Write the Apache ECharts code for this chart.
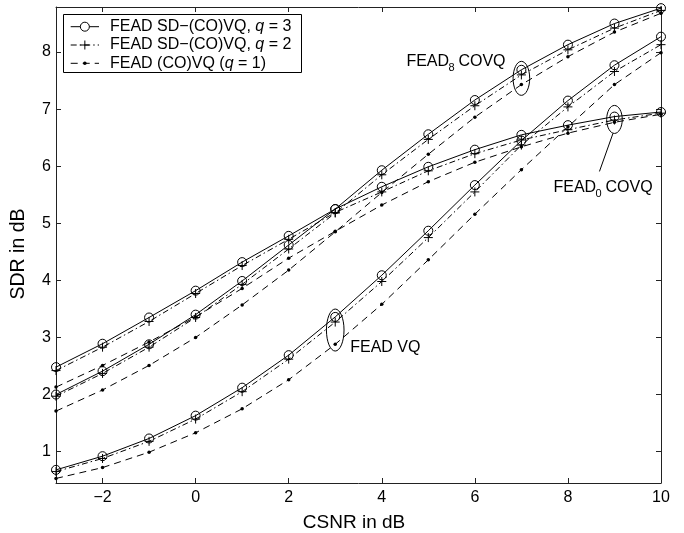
<!DOCTYPE html>
<html><head><meta charset="utf-8">
<script src="https://cdn.jsdelivr.net/npm/echarts@6/dist/echarts.min.js"></script>
<style>html,body{margin:0;padding:0;background:#fff}#c{width:684px;height:533px}</style>
</head><body><div id="c"></div>
<script>
const csnr = [-3,-2,-1,0,1,2,3,4,5,6,7,8,9,10];
const xTicks = [-2,0,2,4,6,8,10];
const yTicks = [1,2,3,4,5,6,7,8];
// FEAD VQ
const vqQ3 = [0.68,0.92,1.23,1.63,2.12,2.69,3.36,4.09,4.87,5.67,6.45,7.15,7.77,8.27];
const vqQ2 = [0.65,0.88,1.18,1.57,2.05,2.62,3.27,3.98,4.75,5.55,6.37,7.04,7.66,8.13];
const vqQ1 = [0.53,0.72,0.99,1.33,1.75,2.26,2.88,3.58,4.36,5.16,5.94,6.69,7.43,7.99];
// FEAD0 COVQ
const f0Q3 = [2.48,2.89,3.35,3.82,4.32,4.78,5.25,5.64,5.99,6.29,6.55,6.72,6.87,6.95];
const f0Q2 = [2.42,2.83,3.28,3.77,4.26,4.72,5.19,5.55,5.92,6.22,6.46,6.64,6.81,6.93];
const f0Q1 = [2.13,2.51,2.92,3.36,3.86,4.39,4.86,5.32,5.73,6.07,6.34,6.58,6.77,6.91];
// FEAD8 COVQ
const f8Q3 = [2.00,2.41,2.88,3.40,3.99,4.62,5.25,5.93,6.56,7.16,7.69,8.13,8.50,8.77];
const f8Q2 = [1.97,2.37,2.83,3.35,3.93,4.55,5.18,5.85,6.47,7.06,7.60,8.04,8.42,8.73];
const f8Q1 = [1.71,2.08,2.51,3.00,3.57,4.18,4.85,5.54,6.21,6.86,7.43,7.92,8.35,8.68];

const N3 = 'FEAD SD\u2212(CO)VQ, q = 3';
const N2 = 'FEAD SD\u2212(CO)VQ, q = 2';
const N1 = 'FEAD (CO)VQ (q = 1)';
const FONT = '"Liberation Sans", Arial, Helvetica, sans-serif';

function pairs(ys){ return csnr.map((x,i)=>[x, ys[i]]); }
const PLUS = 'path://M5 0L5 10M0 5L10 5';
const DASHDOT = [6,3,1.5,3];
const DASH = [7,5];
const styles = {
  3: {symbol:'circle', symbolSize:9, itemStyle:{color:'rgba(0,0,0,0)', borderColor:'#000', borderWidth:1}, lineStyle:{color:'#000', width:1, type:'solid'}},
  2: {symbol:PLUS, symbolSize:9, itemStyle:{color:'rgba(0,0,0,0)', borderColor:'#000', borderWidth:1}, lineStyle:{color:'#000', width:1, type:DASHDOT}},
  1: {symbol:'circle', symbolSize:3.5, itemStyle:{color:'#000', borderWidth:0}, lineStyle:{color:'#000', width:1, type:DASH}}
};
function mk(name, ys, q){
  const s = styles[q];
  return {type:'line', name, data:pairs(ys), xAxisIndex:0, yAxisIndex:0,
    symbol:s.symbol, symbolSize:s.symbolSize, showSymbol:true, itemStyle:s.itemStyle,
    lineStyle:s.lineStyle, animation:false, silent:true, z:2};
}
const series = [
  mk(N3, vqQ3, 3), mk(N2, vqQ2, 2), mk(N1, vqQ1, 1),
  mk(N3, f0Q3, 3), mk(N2, f0Q2, 2), mk(N1, f0Q1, 1),
  mk(N3, f8Q3, 3), mk(N2, f8Q2, 2), mk(N1, f8Q1, 1)
];
const axisCommon = {
  axisLine:{show:true, onZero:false, lineStyle:{color:'#222', width:1}},
  splitLine:{show:false}
};
const chart = echarts.init(document.getElementById('c'));
chart.setOption({
  animation:false,
  backgroundColor:'#fff',
  grid:{left:56, right:23, top:7, bottom:50, containLabel:false},
  xAxis:[
    Object.assign({type:'value', min:-3, max:10, position:'bottom',
      axisTick:{show:true, inside:true, length:5, customValues:xTicks, lineStyle:{color:'#222'}},
      axisLabel:{show:true, customValues:xTicks, margin:7, fontSize:16, color:'#000', fontFamily:FONT,
        formatter:v=> v<0 ? '\u2212'+Math.abs(v) : String(v)}}, axisCommon),
    Object.assign({type:'value', min:-3, max:10, position:'top',
      axisTick:{show:true, inside:true, length:5, customValues:xTicks, lineStyle:{color:'#222'}},
      axisLabel:{show:false}}, axisCommon)
  ],
  yAxis:[
    Object.assign({type:'value', min:0.45, max:8.79, position:'left',
      axisTick:{show:true, inside:true, length:5, customValues:yTicks, lineStyle:{color:'#222'}},
      axisLabel:{show:true, customValues:yTicks, margin:5, fontSize:16, color:'#000', fontFamily:FONT}}, axisCommon),
    Object.assign({type:'value', min:0.45, max:8.79, position:'right',
      axisTick:{show:true, inside:true, length:5, customValues:yTicks, lineStyle:{color:'#222'}},
      axisLabel:{show:false}}, axisCommon)
  ],
  series
});

function px(x, y){ return chart.convertToPixel({xAxisIndex:0, yAxisIndex:0}, [x, y]); }
const eVQ = px(3, 3.13), e8 = px(7, 7.54), e0 = px(9, 6.82);
const tStyle = (text, x, y, size, align, vAlign) => ({type:'text', x, y, silent:true, z:10,
  style:{text, fontSize:size, fontFamily:FONT, fill:'#000', align:align||'left', verticalAlign:vAlign||'middle'}});

// legend (box, samples, labels)
const LEG = {x:63.5, y:14.5, w:238, h:58, row0:26.7, rowH:18.3, ix0:70.7, ix1:99, tx:110};
const legendEls = [{type:'rect', z:19, silent:true, shape:{x:LEG.x, y:LEG.y, width:LEG.w, height:LEG.h},
  style:{fill:'#fff', stroke:'#000', lineWidth:1}}];
[[3,N3],[2,N2],[1,N1]].forEach(([q, name], i) => {
  const cy = LEG.row0 + LEG.rowH*i;
  legendEls.push({type:'line', z:20, silent:true, shape:{x1:LEG.ix0, y1:cy, x2:LEG.ix1, y2:cy},
    style:{stroke:'#000', lineWidth:1, lineDash: q===3 ? null : (q===2 ? DASHDOT : DASH)}});
  const mx = (LEG.ix0+LEG.ix1)/2;
  if (q===3) legendEls.push({type:'circle', z:21, silent:true, shape:{cx:mx, cy, r:4.5}, style:{fill:'#fff', stroke:'#000', lineWidth:1}});
  if (q===2) legendEls.push({type:'line', z:21, silent:true, shape:{x1:mx-4.5, y1:cy, x2:mx+4.5, y2:cy}, style:{stroke:'#000', lineWidth:1}},
                            {type:'line', z:21, silent:true, shape:{x1:mx, y1:cy-4.5, x2:mx, y2:cy+4.5}, style:{stroke:'#000', lineWidth:1}});
  if (q===1) legendEls.push({type:'circle', z:21, silent:true, shape:{cx:mx, cy, r:1.8}, style:{fill:'#000'}});
  const k = name.indexOf('q ');
  legendEls.push({type:'text', x:LEG.tx, y:cy, z:21, silent:true,
    style:{text: name.slice(0,k) + '{i|q}' + name.slice(k+1), fontSize:16, fontFamily:FONT, fill:'#000',
      align:'left', verticalAlign:'middle',
      rich:{i:{fontStyle:'italic', fontSize:16, fontFamily:FONT, fill:'#000'}}}});
});

const graphics = legendEls.concat([
  {type:'ellipse', shape:{cx:eVQ[0], cy:eVQ[1], rx:8.8, ry:21}, style:{fill:'none', stroke:'#000', lineWidth:1}, silent:true, z:10},
  {type:'ellipse', shape:{cx:e8[0], cy:e8[1], rx:8.3, ry:17}, style:{fill:'none', stroke:'#000', lineWidth:1}, silent:true, z:10},
  {type:'ellipse', shape:{cx:e0[0], cy:e0[1], rx:7.8, ry:14}, style:{fill:'none', stroke:'#000', lineWidth:1}, silent:true, z:10},
  {type:'line', shape:{x1:e0[0]-1.5, y1:e0[1]+14, x2:e0[0]-15, y2:e0[1]+52}, style:{stroke:'#000', lineWidth:1}, silent:true, z:10},
  tStyle('FEAD VQ', eVQ[0]+15, eVQ[1]+18, 16),
  tStyle('FEAD', e8[0]-115, e8[1]-17, 16),
  tStyle('8', e8[0]-73, e8[1]-10, 11),
  tStyle('COVQ', e8[0]-63, e8[1]-17, 16),
  tStyle('FEAD', e0[0]-61, e0[1]+68, 16),
  tStyle('0', e0[0]-19, e0[1]+75, 11),
  tStyle('COVQ', e0[0]-9, e0[1]+68, 16),
  tStyle('CSNR in dB', 354, 523, 19, 'center'),
  {type:'text', x:19, y:254, rotation:Math.PI/2, silent:true, z:10,
    style:{text:'SDR in dB', fontSize:19.5, fontFamily:FONT, fill:'#000', align:'center', verticalAlign:'middle'}}
]);
chart.setOption({graphic:graphics});
</script>
</body></html>
